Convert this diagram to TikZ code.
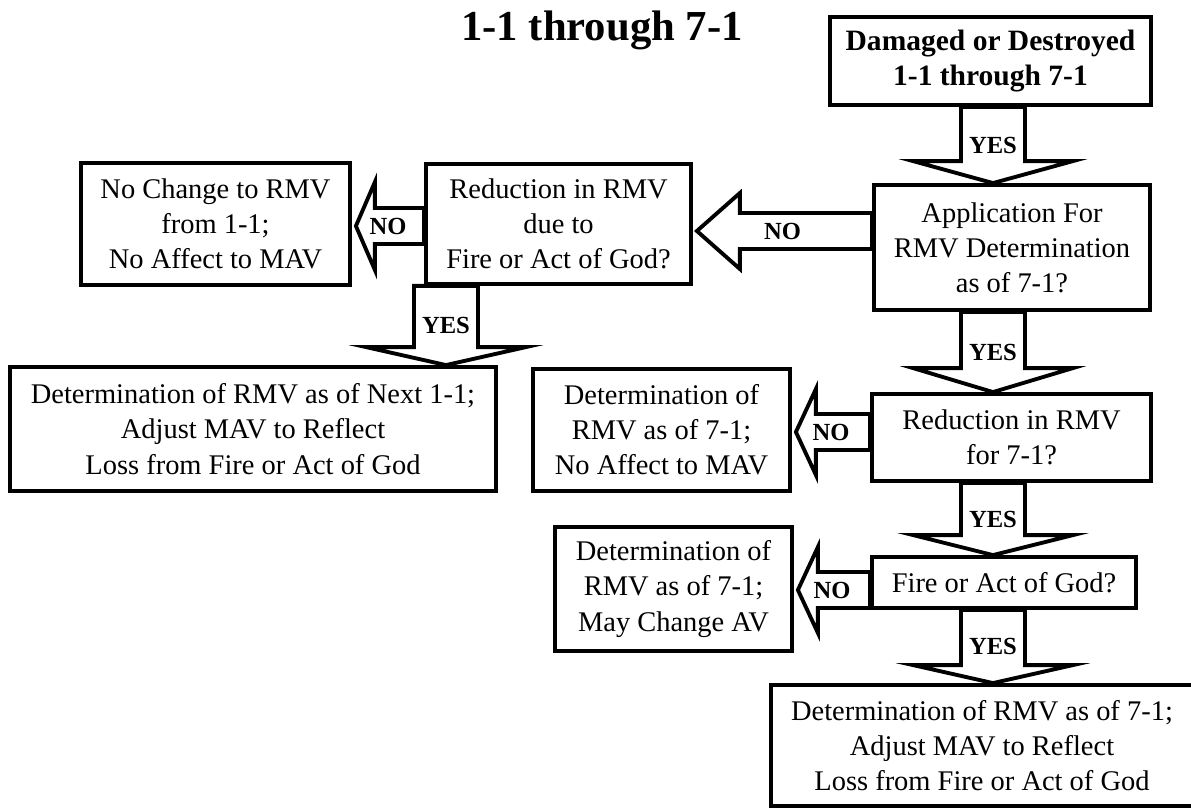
\documentclass[tikz,border=0pt]{standalone}
\usepackage{fontspec}
\setmainfont{Liberation Serif}
\usepackage{tikz}
\usetikzlibrary{calc}

\tikzset{
  box/.style={draw, line width=2.2pt, align=center, inner sep=0pt,
    font=\fontsize{16.2}{20}\selectfont},
  blockarrow/.style={draw, fill=white, line width=2.2pt, line join=miter},
  answer/.style={font=\fontsize{14}{16}\bfseries\selectfont}
}

\newcommand{\yesarrow}[4]{%
  \draw[blockarrow] (#2.north -| #4) -- ++(-80,-#3) -- ++(48,0)
    -- ($(#1.south -| #4)+(-32,0)$) -- ++(64,0)
    -- ($(#2.north -| #4)+(32,-#3)$) -- ++(48,0) -- cycle;
  \node[answer] at ($(#1.south -| #4)!.5!(#2.north -| #4)$) {YES};}

\newcommand{\noarrow}[5]{%
  \draw[blockarrow] ($(#2.east |- #5)+(4,0)$) -- ++(#3,-#4) -- ++(0,#4-18)
    -- ($(#1.west |- #5)+(0,-18)$) -- ++(0,36)
    -- ($(#2.east |- #5)+(4+#3,18)$) -- ++(0,#4-18) -- cycle;
  \node[answer] at ($(#1.west |- #5)!.5!(#2.east |- #5)$) {NO};}

\begin{document}
\begin{tikzpicture}[x=0.02cm, y=-0.02cm]
\useasboundingbox (0,0) rectangle (1191,810);
\coordinate (mid) at (993,0); \coordinate (left) at (446,0);
\coordinate (row1) at (0,231); \coordinate (row2) at (0,226);
\coordinate (row3) at (0,432); \coordinate (row4) at (0,590);

\node[font=\fontsize{24.3}{28}\bfseries\selectfont] (title) at (602,30) {1-1 through 7-1};
\node[box, font=\fontsize{16.8}{20}\bfseries\selectfont, minimum width=6.42cm, minimum height=1.76cm] (start) at (990.5,61) {Damaged or Destroyed\\1-1 through 7-1};
\node[box, minimum width=5.52cm, minimum height=2.5cm] (appl) at (1012,247.5) {Application For\\RMV Determination\\as of 7-1?};
\node[box, minimum width=5.3cm, minimum height=2.4cm] (reddue) at (558.5,224) {Reduction in RMV\\due to\\Fire or Act of God?};
\node[box, minimum width=5.38cm, minimum height=2.44cm] (nochange) at (215.5,224) {No Change to RMV\\from 1-1;\\No Affect to MAV};
\node[box, minimum width=9.72cm, minimum height=2.48cm] (nextjan) at (253,429) {Determination of RMV as of Next 1-1;\\Adjust MAV to Reflect\\Loss from Fire or Act of God};
\node[box, minimum width=5.14cm, minimum height=2.44cm] (julynoaff) at (661.5,430) {Determination of\\RMV as of 7-1;\\No Affect to MAV};
\node[box, minimum width=5.58cm, minimum height=1.74cm] (redjuly) at (1011.5,437.5) {Reduction in RMV\\for 7-1?};
\node[box, minimum width=4.74cm, minimum height=2.48cm] (julyav) at (673.5,589) {Determination of\\RMV as of 7-1;\\May Change AV};
\node[box, minimum width=5.28cm, minimum height=1.02cm] (fire) at (1004,582.5) {Fire or Act of God?};
\node[box, minimum width=8.44cm, minimum height=2.42cm] (julyloss) at (982,745.5) {Determination of RMV as of 7-1;\\Adjust MAV to Reflect\\Loss from Fire or Act of God};

\yesarrow{start}{appl}{22}{mid}
\yesarrow{appl}{redjuly}{24}{mid}
\yesarrow{redjuly}{fire}{20}{mid}
\yesarrow{fire}{julyloss}{18}{mid}
\yesarrow{reddue}{nextjan}{18}{left}
\noarrow{appl}{reddue}{43}{38}{row1}
\noarrow{reddue}{nochange}{19}{44}{row2}
\noarrow{redjuly}{julynoaff}{20}{43}{row3}
\noarrow{fire}{julyav}{20}{43}{row4}
\end{tikzpicture}
\end{document}
